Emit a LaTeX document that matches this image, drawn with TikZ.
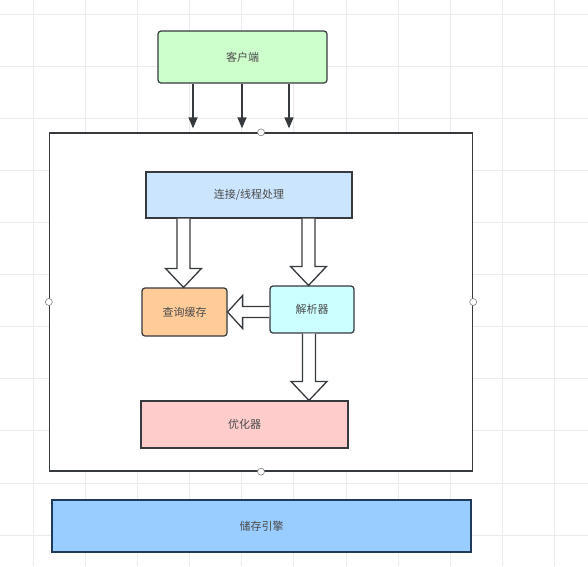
\documentclass[tikz,border=0pt]{standalone}
\usepackage{fontspec}
\newfontfamily\cjk{Noto Sans CJK SC}
\usetikzlibrary{arrows.meta,calc}
\definecolor{gridc}{HTML}{EBEBEB}
\definecolor{edge}{HTML}{36393D}
\definecolor{txt}{HTML}{4A4A4A}
\definecolor{cgreen}{HTML}{CCFFCC}
\definecolor{cblue}{HTML}{CCE5FF}
\definecolor{corange}{HTML}{FFCC99}
\definecolor{ccyan}{HTML}{CCFFFF}
\definecolor{cpink}{HTML}{FFCCCC}
\definecolor{cstore}{HTML}{99CCFF}
\definecolor{storeedge}{HTML}{1F3A5A}
\tikzset{
  box/.style={draw=edge, line width=1.2pt, text=txt, font=\cjk\fontsize{11}{13}\selectfont, inner sep=0pt},
  arr/.style={draw=edge, line width=1.3pt, -{Triangle[length=11pt,width=9pt]}, shorten >=4pt},
  blk/.style={draw=edge, line width=1.3pt, fill=white, line join=miter},
  handle/.style={circle, draw=gray, fill=white, line width=0.6pt, minimum size=7pt, inner sep=0pt}
}
\newcommand\blkdown[2]{%
  \draw[blk] let \p1=#1, \p2=#2 in
    (\x1-6.5pt,\y1) -- (\x1-6.5pt,\y2+19pt) -- (\x1-18pt,\y2+19pt) -- (\x1,\y2)
    -- (\x1+18pt,\y2+19pt) -- (\x1+6.5pt,\y2+19pt) -- (\x1+6.5pt,\y1);}
\newcommand\blkleft[2]{%
  \draw[blk] let \p1=#1, \p2=#2 in
    (\x1,\y1+5.5pt) -- (\x2+15pt,\y1+5.5pt) -- (\x2+15pt,\y1+16.5pt) -- (\x2,\y1)
    -- (\x2+15pt,\y1-16.5pt) -- (\x2+15pt,\y1-5.5pt) -- (\x1,\y1-5.5pt);}
\begin{document}
\begin{tikzpicture}[x=1pt,y=-1pt]
\useasboundingbox (0,0) rectangle (588,566);
\fill[white] (0,0) rectangle (588,566);
\foreach \i in {0,...,10} \draw[gridc, line width=0.8pt] (33.3+52.1*\i,0) -- ++(0,566);
\foreach \j in {0,...,10} \draw[gridc, line width=0.8pt] (0,14+52.1*\j) -- ++(588,0);

% container
\node[draw=edge, line width=1.3pt, fill=white, minimum width=423pt, minimum height=338pt, inner sep=0pt] (main) at (261,302) {};

% nodes
\node[box, fill=cgreen, rounded corners=3pt, minimum width=169pt, minimum height=52pt] (client) at (242.5,57) {客户端};
\node[box, fill=cblue, minimum width=206pt, minimum height=46pt] (conn) at (249,195) {连接/线程处理};
\node[box, fill=corange, rounded corners=3pt, minimum width=85pt, minimum height=48pt] (cache) at (184.5,312) {查询缓存};
\node[box, fill=ccyan, rounded corners=3pt, minimum width=84pt, minimum height=47pt] (parser) at (312,309.5) {解析器};
\node[box, fill=cpink, minimum width=207pt, minimum height=47pt] (opt) at (244.5,424.5) {优化器};
\node[box, draw=storeedge, fill=cstore, minimum width=419pt, minimum height=52pt] (store) at (261.5,526) {储存引擎};

% client arrows
\draw[arr] ([xshift=-49.5pt]client.south) -- ([xshift=-49.5pt]client.south |- main.north);
\draw[arr] ([xshift=-0.5pt]client.south) -- ([xshift=-0.5pt]client.south |- main.north);
\draw[arr] ([xshift=46.5pt]client.south) -- ([xshift=46.5pt]client.south |- main.north);

% block arrows
\blkdown{([xshift=-1pt]cache.north |- conn.south)}{([xshift=-1pt]cache.north)}
\blkdown{([xshift=-3.5pt]parser.north |- conn.south)}{([xshift=-3.5pt]parser.north)}
\blkdown{([xshift=-3pt]parser.south)}{([xshift=-3pt]parser.south |- opt.north)}
\blkleft{(parser.west |- cache.east)}{(cache.east)}

% handles
\node[handle] (h1) at (main.north) {};
\node[handle] (h2) at (main.south) {};
\node[handle] (h3) at (main.west) {};
\node[handle] (h4) at (main.east) {};
\end{tikzpicture}
\end{document}
